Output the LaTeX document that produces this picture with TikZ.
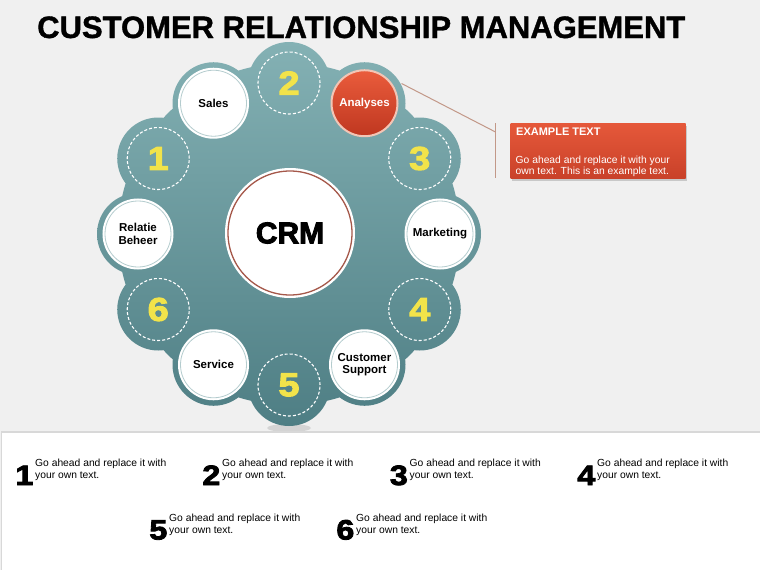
\documentclass[tikz,border=0pt]{standalone}
\usepackage{fontspec}
\setmainfont{Liberation Sans}
\newfontfamily\heavy{Liberation Sans}[BoldFeatures={FakeBold=3,FakeStretch=1.15}]
\newfontfamily\crmfont{Liberation Sans}[BoldFeatures={FakeBold=3}]
\newfontfamily\titlefont{Liberation Sans}[BoldFeatures={FakeBold=1.2}]
\usetikzlibrary{calc,shadows}
\definecolor{bgc}{HTML}{F0F0F0}
\definecolor{tealtop}{HTML}{84B1B4}
\definecolor{tealbot}{HTML}{4E7E84}
\definecolor{numyel}{HTML}{F2E34A}
\definecolor{redtop}{HTML}{EA5C3C}
\definecolor{redbot}{HTML}{BF3720}
\definecolor{redrim}{HTML}{F3C5B5}
\definecolor{crmline}{HTML}{A5584A}
\definecolor{conn}{HTML}{C29888}
\definecolor{ringc}{HTML}{B4CCCE}
\definecolor{paneledge}{HTML}{D8D8D8}
\definecolor{boxtop}{HTML}{E5583A}
\definecolor{boxbot}{HTML}{C94129}
\begin{document}
\begin{tikzpicture}[x=1pt,y=-1pt,
  wnode/.style={circle, minimum size=66pt, inner sep=0pt, fill=white, draw=ringc, line width=0.8pt,
    preaction={draw=white, line width=5pt}, font=\bfseries\fontsize{11.5}{12.7}\selectfont, align=center},
  numnode/.style={circle, minimum size=62pt, inner sep=0pt, draw=white, line width=1.1pt,
    dash pattern=on 3pt off 2pt, text=numyel, font=\heavy\bfseries\fontsize{33}{33}\selectfont},
  rednode/.style={circle, minimum size=66pt, inner sep=0pt, top color=redtop, bottom color=redbot,
    draw=redrim, line width=2pt, text=white, font=\bfseries\fontsize{11.5}{12.7}\selectfont},
  crmnode/.style={circle, minimum size=124pt, inner sep=0pt, fill=white, draw=crmline, line width=1.3pt,
    preaction={draw=white, line width=6pt}, font=\crmfont\bfseries\fontsize{30}{30}\selectfont},
  bignum/.style={anchor=base east, inner sep=0pt, font=\heavy\bfseries\fontsize{28}{28}\selectfont},
  itemtxt/.style={anchor=north west, inner sep=0pt, align=left, font=\fontsize{10.3}{11.8}\selectfont},
  connline/.style={draw=conn, line width=1pt}
]
\useasboundingbox (0,0) rectangle (760,570);
\fill[bgc] (0,0) rectangle (760,570);

% reflection under the diagram
\fill[gray!55, opacity=0.5] (289,428) ellipse [x radius=22pt, y radius=4pt];

% bottom panel
\draw[draw=paneledge, fill=white, line width=1.2pt] (1.5,432) rectangle (775,590);

% centre and bubble positions
\coordinate (C) at (289,234);
\foreach \a in {0,30,...,330} {
  \coordinate (b\a) at ([shift={(\a:151pt)}]C);
}

% teal blob
\shade[top color=tealtop, bottom color=tealbot]
  (C) circle[radius=171pt]
  (b0) circle[radius=41pt] (b30) circle[radius=41pt] (b60) circle[radius=41pt]
  (b90) circle[radius=41pt] (b120) circle[radius=41pt] (b150) circle[radius=41pt]
  (b180) circle[radius=41pt] (b210) circle[radius=41pt] (b240) circle[radius=41pt]
  (b270) circle[radius=41pt] (b300) circle[radius=41pt] (b330) circle[radius=41pt];

% CRM centre
\node[crmnode] (crm) at (290,233) {CRM};

% outer nodes
\node[wnode] (sales) at (b120) {Sales};
\node[numnode] (n2) at (b90) {2};
\node[rednode] (analyses) at (b60) {Analyses};
\node[numnode] (n3) at (b30) {3};
\node[wnode] (marketing) at (b0) {Marketing};
\node[numnode] (n4) at (b330) {4};
\node[wnode] (support) at (b300) {Customer\\Support};
\node[numnode] (n5) at (b270) {5};
\node[wnode] (service) at (b240) {Service};
\node[numnode] (n6) at (b210) {6};
\node[wnode] (relatie) at (b180) {Relatie\\Beheer};
\node[numnode] (n1) at (b150) {1};

% example text box
\node[anchor=north west, minimum width=175pt, minimum height=55pt, inner sep=0pt,
  top color=boxtop, bottom color=boxbot,
  drop shadow={opacity=0.35, shadow xshift=1.5pt, shadow yshift=-2pt}] (exbox) at (510.5,123.5) {};
\node[anchor=base west, inner sep=0pt, text=white, font=\bfseries\fontsize{11}{11}\selectfont] (exhead) at (516,135.5) {EXAMPLE TEXT};
\node[anchor=north west, inner sep=0pt, align=left, text=white, font=\fontsize{10.3}{11}\selectfont] (exbody) at (515.5,156)
  {Go ahead and replace it with your\\own text. This is an example text.};

% connector
\coordinate (cstart) at ([shift={(28:42pt)}]b60);
\coordinate (vtop) at (495.5,123);
\coordinate (vbot) at (495.5,178);
\coordinate (vjoin) at (495.5,132);
\draw[connline] (cstart) -- (vjoin);
\draw[connline] (vtop) -- (vbot);

% title
\node[anchor=base west, inner sep=0pt, font=\titlefont\bfseries\fontsize{31}{31}\selectfont] (title) at (37,38) {CUSTOMER RELATIONSHIP MANAGEMENT};

% bottom items
\node[bignum] (k1) at (33.5,485) {1};
\node[itemtxt] (t1) at (35,459.2) {Go ahead and replace it with\\your own text.};
\node[bignum] (k2) at (220.5,485) {2};
\node[itemtxt] (t2) at (222,459.2) {Go ahead and replace it with\\your own text.};
\node[bignum] (k3) at (408,485) {3};
\node[itemtxt] (t3) at (409.5,459.2) {Go ahead and replace it with\\your own text.};
\node[bignum] (k4) at (595.5,485) {4};
\node[itemtxt] (t4) at (597,459.2) {Go ahead and replace it with\\your own text.};
\node[bignum] (k5) at (167.5,539.5) {5};
\node[itemtxt] (t5) at (169,514) {Go ahead and replace it with\\your own text.};
\node[bignum] (k6) at (354.5,539.5) {6};
\node[itemtxt] (t6) at (356,514) {Go ahead and replace it with\\your own text.};
\end{tikzpicture}
\end{document}
